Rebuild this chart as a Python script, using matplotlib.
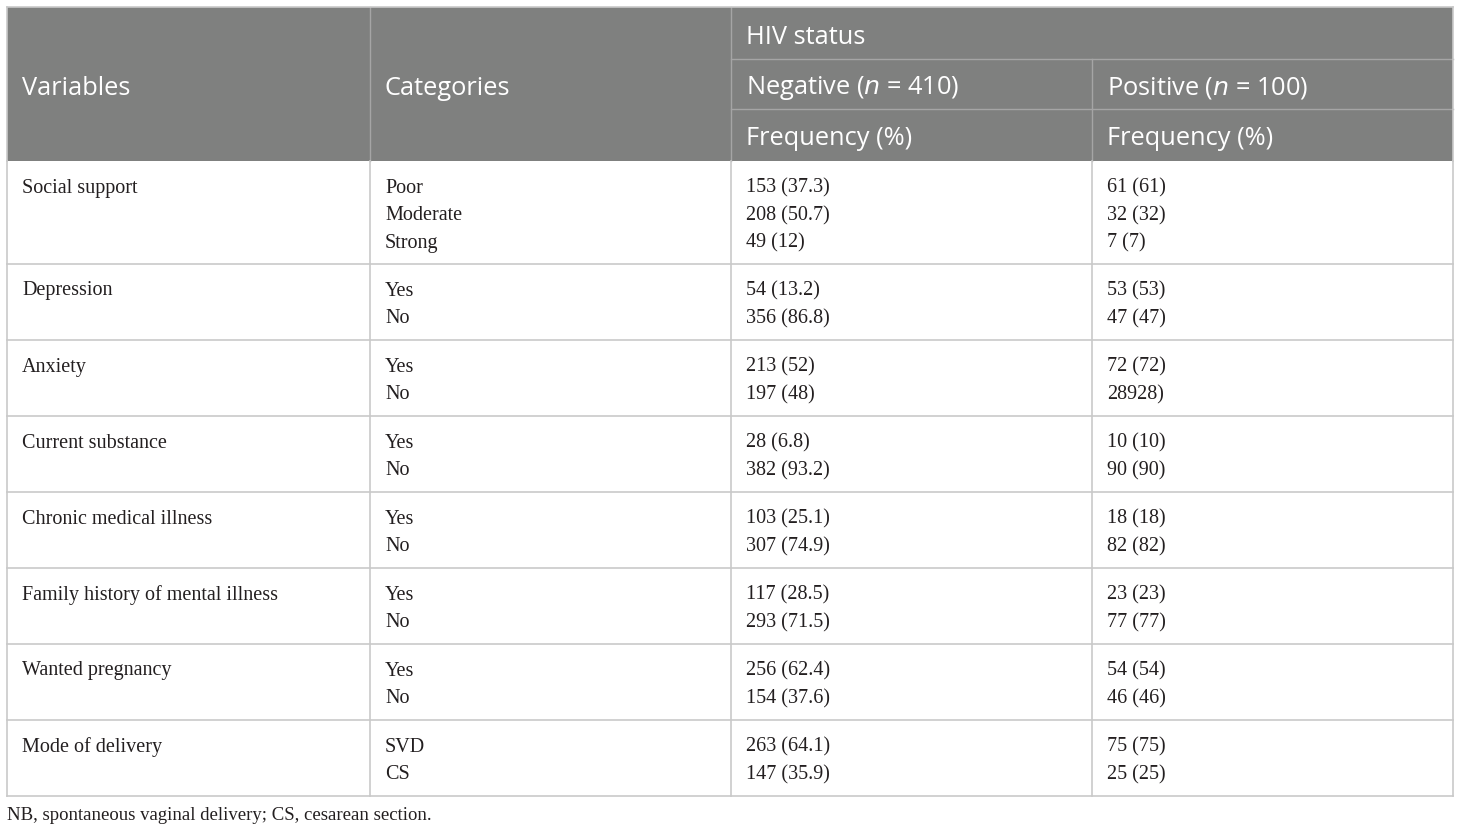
import matplotlib
matplotlib.use('Agg')
from matplotlib import pyplot as plt
from matplotlib.patches import Rectangle

# table contents
variables = ['Social support', 'Depression', 'Anxiety', 'Current substance',
             'Chronic medical illness', 'Family history of mental illness',
             'Wanted pregnancy', 'Mode of delivery']
categories = [['Poor', 'Moderate', 'Strong'], ['Yes', 'No'], ['Yes', 'No'],
              ['Yes', 'No'], ['Yes', 'No'], ['Yes', 'No'], ['Yes', 'No'],
              ['SVD', 'CS']]
negative = [['153 (37.3)', '208 (50.7)', '49 (12)'], ['54 (13.2)', '356 (86.8)'],
            ['213 (52)', '197 (48)'], ['28 (6.8)', '382 (93.2)'],
            ['103 (25.1)', '307 (74.9)'], ['117 (28.5)', '293 (71.5)'],
            ['256 (62.4)', '154 (37.6)'], ['263 (64.1)', '147 (35.9)']]
positive = [['61 (61)', '32 (32)', '7 (7)'], ['53 (53)', '47 (47)'],
            ['72 (72)', '28928)'], ['10 (10)', '90 (90)'],
            ['18 (18)', '82 (82)'], ['23 (23)', '77 (77)'],
            ['54 (54)', '46 (46)'], ['75 (75)', '25 (25)']]
header_left = ['Variables', 'Categories']
group_title = 'HIV status'
footnote = 'NB, spontaneous vaginal delivery; CS, cesarean section.'

W, H = 1460, 833
fig = plt.figure(figsize=(W / 100, H / 100), dpi=100)
ax = fig.add_axes([0, 0, 1, 1])
ax.set_xlim(0, W)
ax.set_ylim(H, 0)
ax.axis('off')

col_x = [7, 370, 731, 1092, 1453]
top, head_bot = 7, 161
sub1, sub2 = 59, 109
line_h = 27.5
pad = 15

head_color = '#7f807f'
head_line = '#a5a5a5'
grid_color = '#c9c9c9'
txt = '#231f20'
sans = 'Open Sans'
serif = 'Liberation Serif'

# header block
ax.add_patch(Rectangle((col_x[0], top), col_x[-1] - col_x[0], head_bot - top,
                       facecolor=head_color, edgecolor='none', zorder=1))
ax.plot([col_x[2], col_x[-1]], [sub1, sub1], color=head_line, lw=1, zorder=2)
ax.plot([col_x[2], col_x[-1]], [sub2, sub2], color=head_line, lw=1, zorder=2)
for x in col_x[1:3]:
    ax.plot([x, x], [top, head_bot], color=head_line, lw=1, zorder=2)
ax.plot([col_x[3], col_x[3]], [sub1, head_bot], color=head_line, lw=1, zorder=2)

hs = 18.3
ax.text(col_x[0] + pad, 88, header_left[0], color='white', fontsize=hs,
        family=sans, va='center', ha='left')
ax.text(col_x[1] + pad, 88, header_left[1], color='white', fontsize=hs,
        family=sans, va='center', ha='left')
ax.text(col_x[2] + pad, 37, group_title, color='white', fontsize=hs,
        family=sans, va='center', ha='left')
ax.text(col_x[2] + pad, 88, r'Negative ($\it{n}$ = 410)', color='white',
        fontsize=hs, family=sans, va='center', ha='left')
ax.text(col_x[3] + pad, 88, r'Positive ($\it{n}$ = 100)', color='white',
        fontsize=hs, family=sans, va='center', ha='left')
for x in col_x[2:4]:
    ax.text(x + pad, 138, 'Frequency (%)', color='white', fontsize=hs,
            family=sans, va='center', ha='left')

# body rows
y = head_bot
bs = 14.5
for i, var in enumerate(variables):
    n = len(categories[i])
    row_h = 76 if n == 2 else 103
    ax.text(col_x[0] + pad, y + 27, var, fontsize=bs, family=serif,
            va='center', ha='left', color=txt)
    for j in range(n):
        ty = y + 27 + j * line_h
        ax.text(col_x[1] + pad, ty, categories[i][j], fontsize=bs, family=serif,
                va='center', ha='left', color=txt)
        ax.text(col_x[2] + pad, ty, negative[i][j], fontsize=bs, family=serif,
                va='center', ha='left', color=txt)
        ax.text(col_x[3] + pad, ty, positive[i][j], fontsize=bs, family=serif,
                va='center', ha='left', color=txt)
    y += row_h
    ax.plot([col_x[0], col_x[-1]], [y, y], color=grid_color, lw=1.2, zorder=2)

bottom = y
for x in col_x:
    ax.plot([x, x], [head_bot, bottom], color=grid_color, lw=1.2, zorder=2)
ax.plot([col_x[0], col_x[-1]], [top, top], color=grid_color, lw=1.2, zorder=2)
ax.plot([col_x[0], col_x[0]], [top, head_bot], color=grid_color, lw=1.2, zorder=2)
ax.plot([col_x[-1], col_x[-1]], [top, head_bot], color=grid_color, lw=1.2, zorder=2)

ax.text(col_x[0], bottom + 19, footnote, fontsize=13.5, family=serif,
        va='center', ha='left', color=txt)

fig.savefig('out.png', dpi=100)
